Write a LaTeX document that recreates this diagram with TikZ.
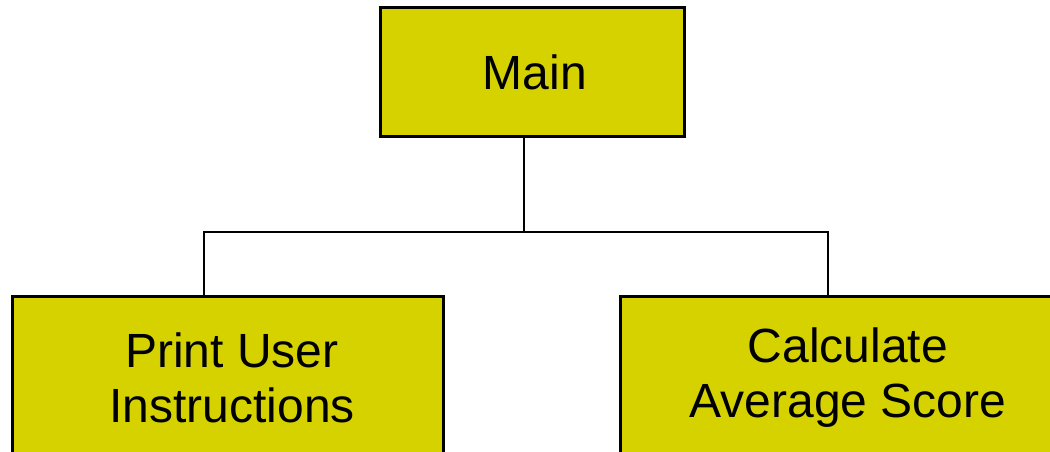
\documentclass[tikz,border=0pt]{standalone}
\usepackage{fontspec}
\setmainfont{Liberation Sans}
\definecolor{boxfill}{RGB}{214,210,0}
\begin{document}
\begin{tikzpicture}[x=1pt,y=-1pt,
  box/.style={draw=black,line width=3pt,fill=boxfill,inner sep=0pt},
  boxtext/.style={inner sep=0pt,align=center,font=\fontsize{48}{55}\selectfont},
  conn/.style={draw=black,line width=2pt}]
\useasboundingbox (0,0) rectangle (1050,452);
\clip (0,0) rectangle (1050,452);
\node[box,minimum width=304pt,minimum height=128pt] (main) at (532,72) {};
\node[boxtext] (maint) at (535,72) {Main};
\node[box,minimum width=431pt,minimum height=164pt] (left) at (227.5,378) {};
\node[boxtext] (leftt) at (232,378) {Print User\\Instructions};
\node[box,minimum width=456pt,minimum height=164pt] (right) at (848,378) {};
\node[boxtext] (rightt) at (848,378) {Calculate\\Average Score};
\coordinate (jm) at (524,232);
\coordinate (jl) at (204,232);
\coordinate (jr) at (828,232);
\draw[conn] (jm |- main.south) -- (jm);
\draw[conn] (jl |- left.north) -- (jl) -- (jr) -- (jr |- right.north);
\end{tikzpicture}
\end{document}
